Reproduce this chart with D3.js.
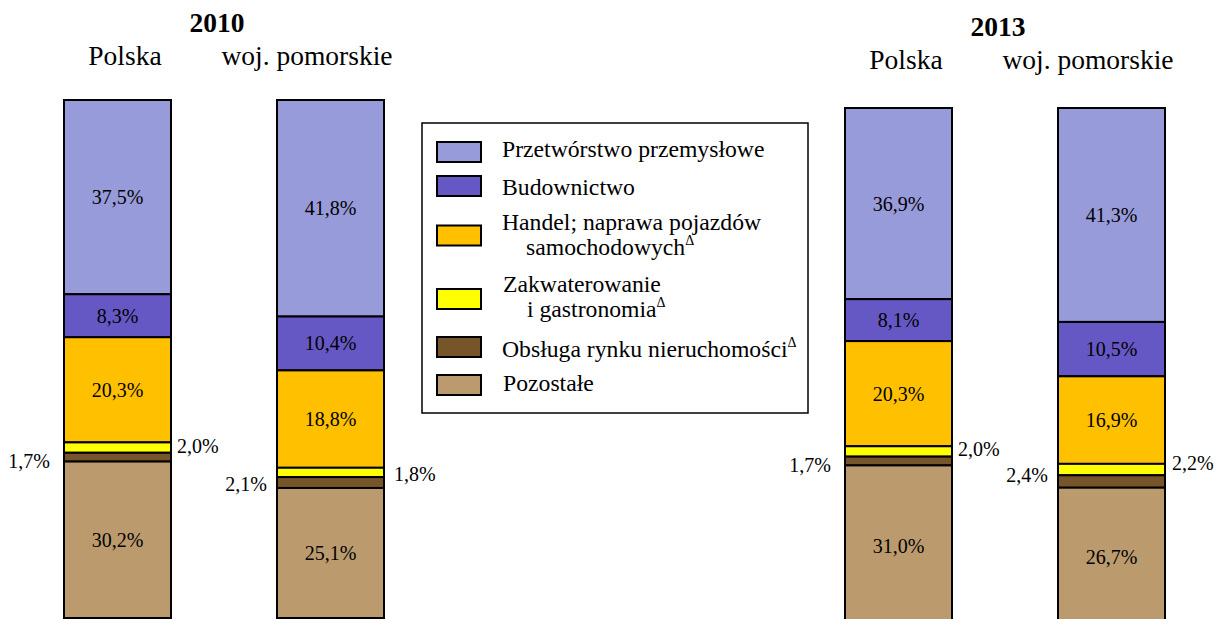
<!DOCTYPE html>
<html lang="pl">
<head>
<meta charset="UTF-8">
<title>Struktura</title>
<script src="https://d3js.org/d3.v7.min.js"></script>
<style>
  body { margin: 0; background: #fff; }
  svg { display: block; }
</style>
</head>
<body>
<div id="chart"></div>
<script>
// data
const years = ["2010", "2013"];
const regions = ["Polska", "woj. pomorskie"];
const sectors = [
  "Przetwórstwo przemysłowe",
  "Budownictwo",
  "Handel; naprawa pojazdów samochodowych",
  "Zakwaterowanie i gastronomia",
  "Obsługa rynku nieruchomości",
  "Pozostałe"
];
// values per column: 2010 Polska, 2010 pomorskie, 2013 Polska, 2013 pomorskie
const values2010Polska = [37.5, 8.3, 20.3, 2.0, 1.7, 30.2];
const values2010Pomorskie = [41.8, 10.4, 18.8, 1.8, 2.1, 25.1];
const values2013Polska = [36.9, 8.1, 20.3, 2.0, 1.7, 31.0];
const values2013Pomorskie = [41.3, 10.5, 16.9, 2.2, 2.4, 26.7];
const colors = ["#989bda", "#6658c4", "#ffc000", "#ffff00", "#77552b", "#bb9b6e"];

const columns = [
  { year: "2010", region: "Polska", values: values2010Polska },
  { year: "2010", region: "woj. pomorskie", values: values2010Pomorskie },
  { year: "2013", region: "Polska", values: values2013Polska },
  { year: "2013", region: "woj. pomorskie", values: values2013Pomorskie }
];

const FONT = '"Liberation Serif", "Times New Roman", Times, serif';
const width = 1218, height = 619;
const svg = d3.select("#chart").append("svg")
  .attr("width", width)
  .attr("height", height)
  .attr("font-family", FONT);

// group offset per year, bar offset within group
const xYear = d3.scaleOrdinal().domain(years).range([64, 845]);
const xRegion = d3.scaleOrdinal().domain(regions).range([0, 213]);
const barW = 107;
const xBar = d => xYear(d.year) + xRegion(d.region);
const yTop = d3.scaleOrdinal().domain(years).range([100, 108]);
const y = d3.scaleLinear().domain([0, 100]).range([0, 518]);

const stackCol = col => {
  let acc = 0;
  return col.values.map((v, i) => {
    const s = { col, i, v, y0: acc, y1: acc + v };
    acc += v;
    return s;
  });
};

const fmt = v => d3.format(".1f")(v).replace(".", ",") + "%";

const txt = (sel, size) => sel.append("text")
  .attr("font-family", FONT)
  .attr("font-size", size)
  .attr("fill", "#000");

columns.forEach((col, ci) => {
  const segs = stackCol(col);
  const g = svg.append("g")
    .attr("transform", `translate(${xBar(col)},${yTop(col.year)})`);

  g.selectAll("rect").data(segs).enter().append("rect")
    .attr("x", 0)
    .attr("y", d => y(d.y0))
    .attr("width", barW)
    .attr("height", d => y(d.v))
    .attr("fill", d => colors[d.i])
    .attr("stroke", "#000")
    .attr("stroke-width", 2);

  // inside labels (big segments)
  segs.filter(d => d.v > 5).forEach(d => {
    txt(g, 20)
      .attr("x", barW / 2)
      .attr("y", y((d.y0 + d.y1) / 2))
      .attr("dy", "0.35em")
      .attr("text-anchor", "middle")
      .text(fmt(d.v));
  });

  // small segments: yellow on the right, brown on the left
  const yel = segs[3], brn = segs[4];
  const rightGap = ci % 2 === 0 ? 6 : (ci === 3 ? 7 : 10);
  const leftGap = ci % 2 === 0 ? 14 : 10;
  txt(g, 20)
    .attr("x", barW + rightGap)
    .attr("y", y((yel.y0 + yel.y1) / 2) + (ci === 3 ? -7 : ci === 1 ? 2 : -2))
    .attr("dy", "0.35em")
    .text(fmt(yel.v));
  txt(g, 20)
    .attr("x", -leftGap)
    .attr("y", y((brn.y0 + brn.y1) / 2) + (ci === 3 ? -6 : ci === 1 ? 1 : 4))
    .attr("dy", "0.35em")
    .attr("text-anchor", "end")
    .text(fmt(brn.v));
});

// headers
years.forEach(yr => {
  const dy = yTop(yr) - 100;
  txt(svg, 27.5)
    .attr("x", xYear(yr) + 153)
    .attr("y", 32 + dy * 0.5)
    .attr("text-anchor", "middle")
    .attr("font-weight", "bold")
    .text(yr);
  regions.forEach(r => {
    const bx = xBar({ year: yr, region: r });
    txt(svg, 27.5)
      .attr("x", r === "Polska" ? bx + 61 : bx + 30)
      .attr("y", 65 + dy * 0.5)
      .attr("text-anchor", "middle")
      .text(r);
  });
});

// legend
const legend = svg.append("g").attr("transform", "translate(422,123)");
legend.append("rect")
  .attr("width", 386).attr("height", 290)
  .attr("fill", "#fff").attr("stroke", "#000").attr("stroke-width", 1.5);

const legendLines = [
  [{ t: "Przetwórstwo przemysłowe", x: 80, y: 34 }],
  [{ t: "Budownictwo", x: 80, y: 72 }],
  [{ t: "Handel; naprawa pojazdów", x: 80, y: 107 }, { t: "samochodowych", x: 104, y: 132, delta: true }],
  [{ t: "Zakwaterowanie", x: 81, y: 169 }, { t: "i gastronomia", x: 105, y: 194, delta: true }],
  [{ t: "Obsługa rynku nieruchomości", x: 80, y: 234, delta: true }],
  [{ t: "Pozostałe", x: 81, y: 268 }]
];
const swatchY = [29, 63, 112.5, 176, 224, 262];

sectors.forEach((s, i) => {
  legend.append("rect")
    .attr("x", 15).attr("y", swatchY[i] - 10)
    .attr("width", 44).attr("height", 20)
    .attr("fill", colors[i])
    .attr("stroke", "#000").attr("stroke-width", 2);
  legendLines[i].forEach(l => {
    const t = txt(legend, 23.7).attr("x", l.x).attr("y", l.y);
    t.append("tspan").text(l.t);
    if (l.delta) {
      t.append("tspan").attr("dy", -10).attr("font-size", 14).text("Δ");
    }
  });
});
</script>
</body>
</html>
